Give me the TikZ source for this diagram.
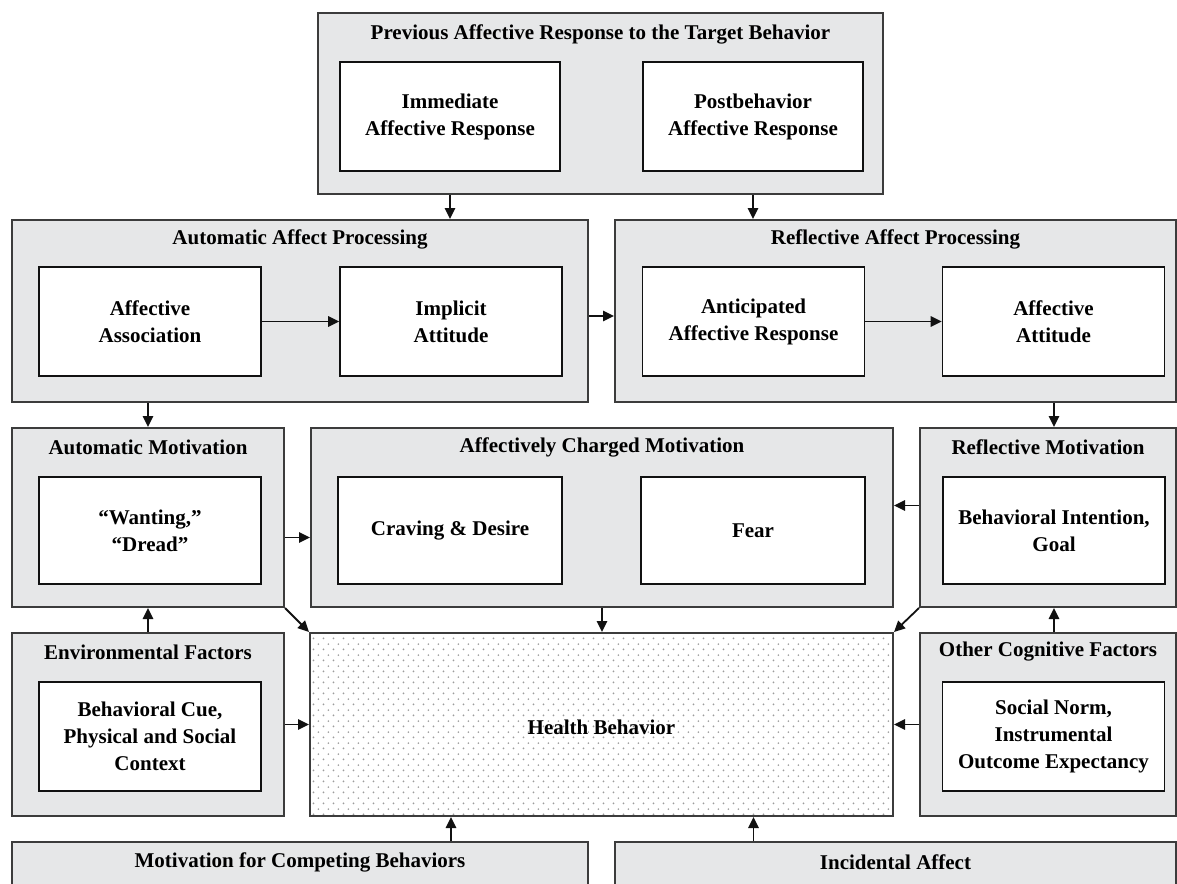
\documentclass[tikz,border=0pt]{standalone}
\usepackage{fontspec}
\setmainfont{Liberation Serif}
\usepackage{tikz}
\usetikzlibrary{arrows.meta,positioning,patterns.meta}
\definecolor{Ink}{HTML}{111111}
\definecolor{Edge}{HTML}{3C3C3C}
\definecolor{Panel}{HTML}{E6E7E8}
\definecolor{Dot}{HTML}{9C9C9C}
\tikzdeclarepattern{
  name=hbdots,
  type=uncolored,
  bounding box={(0pt,0pt) and (5.2pt,5.6pt)},
  tile size={(5.2pt,5.6pt)},
  code={
    \fill (1.3pt,1.4pt) circle[radius=.5pt];
    \fill (3.9pt,4.2pt) circle[radius=.5pt];
  }
}
\tikzset{
  panel/.style={draw=Edge, fill=Panel, line width=1pt, inner sep=0pt},
  box/.style={
    draw=Ink, fill=white, line width=.8pt, align=center, inner sep=0pt,
    minimum width=111pt, minimum height=54.5pt
  },
  heading/.style={inner sep=0pt, align=center},
  dotpanel/.style={draw=Edge, line width=1pt, inner sep=0pt, pattern=hbdots, pattern color=Dot},
  arr/.style={-{Triangle[length=5.5pt,width=5.2pt]}, line width=.9pt, draw=Ink}
}
\begin{document}
\begin{tikzpicture}[x=0.5pt,y=-0.5pt,font=\fontsize{10.5pt}{13.5pt}\selectfont\bfseries]
  \clip (0,0) rectangle (1177,883);
  % previous response
  \node[panel,minimum width=282.5pt,minimum height=90.5pt] (top) at (600.5,103.5) {};
  \node[heading] (topT) at ([yshift=-11pt]top.north) {Previous Affective Response to the Target Behavior};
  \node[box,minimum width=110pt] (imm) at (450,116.5) {Immediate\\Affective Response};
  \node[box,minimum width=110pt] (post) at (753,116.5) {Postbehavior\\Affective Response};
  % affect processing
  \node[panel,minimum width=288pt,minimum height=91pt] (aap) at (300,311) {};
  \node[heading] (aapT) at ([yshift=-10pt]aap.north) {Automatic Affect Processing};
  \node[box] (assoc) at (150,321.5) {Affective\\Association};
  \node[box] (impl) at (451,321.5) {Implicit\\Attitude};
  \node[panel,minimum width=280.5pt,minimum height=91pt] (rap) at (895.5,311) {};
  \node[heading] (rapT) at ([yshift=-10pt]rap.north) {Reflective Affect Processing};
  \node[box] (antic) at (753.5,321.5) {Anticipated\\Affective Response};
  \node[box] (attit) at (1053.5,321.5) {Affective\\Attitude};
  % motivation
  \node[panel,minimum width=136pt,minimum height=89.5pt] (amot) at (148,517.5) {};
  \node[heading] (amotT) at ([yshift=-10pt]amot.north) {Automatic Motivation};
  \node[box,minimum height=53.5pt] (want) at (150,530.5) {“Wanting,”\\“Dread”};
  \node[panel,minimum width=291pt,minimum height=89.5pt] (acm) at (602,517.5) {};
  \node[heading] (acmT) at ([yshift=-10pt]acm.north) {Affectively Charged Motivation};
  \node[box,minimum width=112pt,minimum height=53.5pt] (crav) at (450,530.5) {Craving \& Desire};
  \node[box,minimum width=112pt,minimum height=53.5pt] (fear) at (753,530.5) {Fear};
  \node[panel,minimum width=128pt,minimum height=89.5pt] (rmot) at (1048,517.5) {};
  \node[heading] (rmotT) at ([yshift=-10pt]rmot.north) {Reflective Motivation};
  \node[box,minimum height=53.5pt] (intent) at (1054,530.5) {Behavioral Intention,\\Goal};
  % factors and behavior
  \node[panel,minimum width=136pt,minimum height=91.5pt] (env) at (148,724.5) {};
  \node[heading] (envT) at ([yshift=-10pt]env.north) {Environmental Factors};
  \node[box] (cue) at (150,736.5) {Behavioral Cue,\\Physical and Social\\Context};
  \node[dotpanel,minimum width=291.5pt,minimum height=91.5pt] (hb) at (601.5,724.5) {};
  \node[heading] (hbT) at (601.5,727) {Health Behavior};
  \node[panel,minimum width=128pt,minimum height=91.5pt] (ocf) at (1048,724.5) {};
  \node[heading] (ocfT) at ([yshift=-10pt]ocf.north) {Other Cognitive Factors};
  \node[box] (norm) at (1053.5,736.5) {Social Norm,\\Instrumental\\Outcome Expectancy};
  % bottom row, cut by the page
  \node[panel,minimum width=288pt,minimum height=41.5pt] (comp) at (300,883.5) {};
  \node[heading] (compT) at ([yshift=-10.5pt]comp.north) {Motivation for Competing Behaviors};
  \node[panel,minimum width=280.5pt,minimum height=41.5pt] (inc) at (895.5,883.5) {};
  \node[heading] (incT) at ([yshift=-10.5pt]inc.north) {Incidental Affect};

  \draw[arr] (imm |- top.south) -- (imm |- aap.north);
  \draw[arr] (post |- top.south) -- (post |- rap.north);
  \draw[arr] (assoc) -- (impl);
  \draw[arr] (antic) -- (attit);
  \draw[arr] ([yshift=-2.5pt]aap.east) -- ([yshift=-2.5pt]rap.west);
  \draw[arr] (aap.south -| amot) -- (amot.north);
  \draw[arr] (intent |- rap.south) -- (intent |- rmot.north);
  \draw[arr] ([yshift=-10pt]amot.east) -- ([yshift=-10pt]amot.east -| acm.west);
  \draw[arr] ([yshift=6pt]rmot.west) -- ([yshift=6pt]rmot.west -| acm.east);
  \draw[arr] (env.north) -- (amot.south);
  \draw[arr] (intent |- ocf.north) -- (intent |- rmot.south);
  \draw[arr] (amot.south east) -- (hb.north west);
  \draw[arr] (acm.south) -- (acm.south |- hb.north);
  \draw[arr] (rmot.south west) -- (hb.north east);
  \draw[arr] (env.east) -- (hb.west);
  \draw[arr] (ocf.west) -- (hb.east);
  \draw[arr] (impl |- comp.north) -- (impl |- hb.south);
  \draw[arr] (antic |- inc.north) -- (antic |- hb.south);
\end{tikzpicture}
\end{document}
